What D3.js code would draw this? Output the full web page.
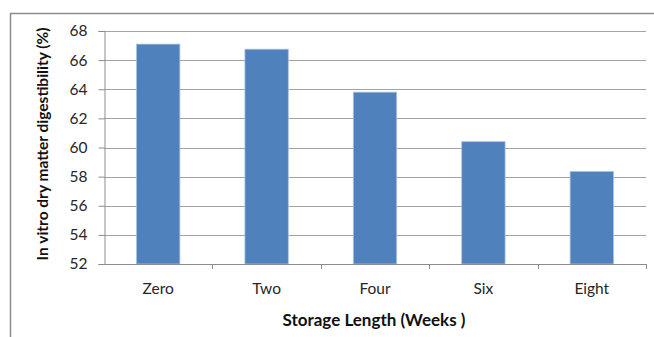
<!DOCTYPE html>
<html>
<head>
<meta charset="utf-8">
<script src="https://cdn.jsdelivr.net/npm/d3@7"></script>
<style>
  html, body { margin: 0; padding: 0; background: #fff; }
  svg { display: block; }
</style>
</head>
<body>
<svg id="chart" width="654" height="337"></svg>
<script>
// Storage length categories and digestibility values (%)
const categories = ["Zero", "Two", "Four", "Six", "Eight"];
const digestibility = [67.1, 66.75, 63.8, 60.4, 58.35];
const yTicks = [52, 54, 56, 58, 60, 62, 64, 66, 68];

const svg = d3.select("#chart");
const font = "Lato, 'Open Sans', sans-serif";

const plot = { left: 104, right: 646, top: 31, bottom: 264 };

// Outer chart frame (left and top edges)
svg.append("path")
  .attr("d", "M10.5,337 V13.5 H654")
  .attr("fill", "none")
  .attr("stroke", "#8c8c8c")
  .attr("stroke-width", 1.5);

const x = d3.scaleBand()
  .domain(categories)
  .range([plot.left, plot.right])
  .paddingInner(0.6)
  .paddingOuter(0.3);

const y = d3.scaleLinear()
  .domain([52, 68])
  .range([plot.bottom, plot.top]);

// Horizontal gridlines
svg.append("g")
  .selectAll("line")
  .data(yTicks.filter(t => t !== 52))
  .join("line")
  .attr("x1", plot.left)
  .attr("x2", plot.right)
  .attr("y1", d => Math.round(y(d)) + 0.5)
  .attr("y2", d => Math.round(y(d)) + 0.5)
  .attr("stroke", "#a3a3a3")
  .attr("stroke-width", 1);

// Bars
svg.append("g")
  .selectAll("rect")
  .data(categories.map((c, i) => ({ c, v: digestibility[i] })))
  .join("rect")
  .attr("x", d => x(d.c))
  .attr("width", x.bandwidth())
  .attr("y", d => y(d.v))
  .attr("height", d => y(52) - y(d.v))
  .attr("fill", "#4f81bd")
  .attr("stroke", "#a9c1e0")
  .attr("stroke-width", 0.8);

// Y axis
const yAxis = svg.append("g")
  .attr("transform", `translate(${plot.left + 0.5},0)`)
  .call(d3.axisLeft(y).tickValues(yTicks).tickSize(6).tickPadding(11).tickFormat(d3.format("d")));
yAxis.select(".domain").attr("stroke", "#8c8c8c");
yAxis.selectAll(".tick line").attr("stroke", "#8c8c8c");
yAxis.selectAll(".tick text")
  .attr("font-family", font)
  .attr("font-size", 15.5)
  .attr("fill", "#262626");

// X axis with ticks at category boundaries
const boundaryScale = d3.scaleLinear().domain([0, categories.length]).range([plot.left, plot.right]);
const xAxisG = svg.append("g");
xAxisG.append("line")
  .attr("x1", plot.left)
  .attr("x2", plot.right)
  .attr("y1", plot.bottom + 0.5)
  .attr("y2", plot.bottom + 0.5)
  .attr("stroke", "#8c8c8c");
xAxisG.selectAll("line.tk")
  .data(d3.range(1, categories.length + 1))
  .join("line")
  .attr("class", "tk")
  .attr("x1", d => Math.round(boundaryScale(d)) + 0.5)
  .attr("x2", d => Math.round(boundaryScale(d)) + 0.5)
  .attr("y1", plot.bottom)
  .attr("y2", plot.bottom + 5)
  .attr("stroke", "#8c8c8c");
xAxisG.selectAll("text")
  .data(categories)
  .join("text")
  .attr("x", d => x(d) + x.bandwidth() / 2)
  .attr("y", 294)
  .attr("text-anchor", "middle")
  .attr("font-family", font)
  .attr("font-size", 15.5)
  .attr("fill", "#262626")
  .text(d => d);

// Axis titles
svg.append("text")
  .attr("x", 374)
  .attr("y", 326)
  .attr("text-anchor", "middle")
  .attr("font-family", font)
  .attr("font-size", 17)
  .attr("font-weight", "bold")
  .attr("fill", "#111")
  .text("Storage Length (Weeks )");

svg.append("text")
  .attr("transform", "translate(48,144) rotate(-90)")
  .attr("text-anchor", "middle")
  .attr("font-family", font)
  .attr("font-size", 15.5)
  .attr("font-weight", "bold")
  .attr("fill", "#111")
  .text("In vitro dry matter digestibility (%)");
</script>
</body>
</html>
